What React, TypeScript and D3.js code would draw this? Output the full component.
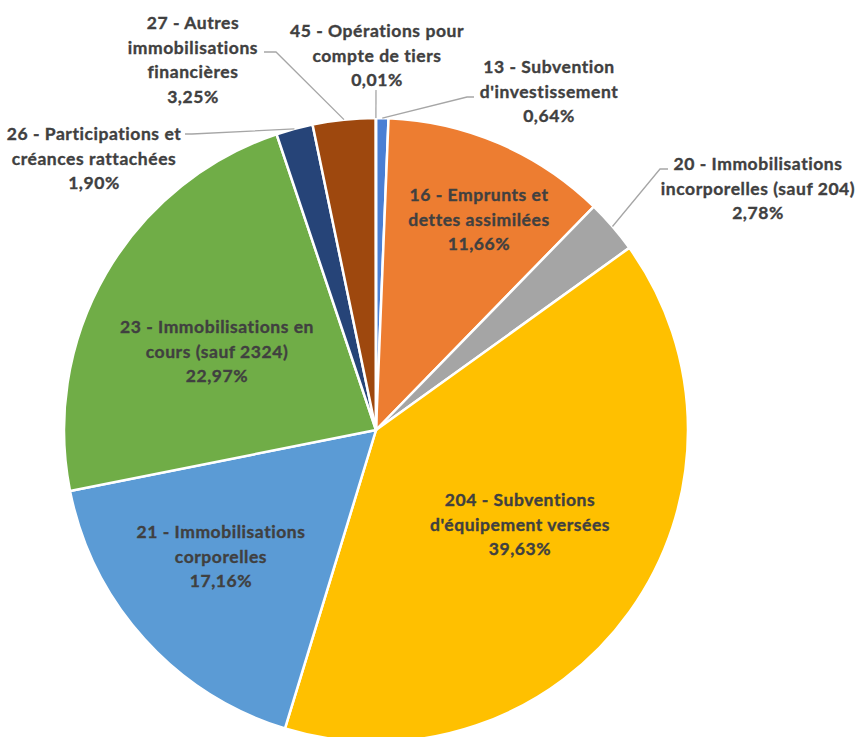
import React from "react";
import * as d3 from "d3";

// ---- data ----
const categories: string[] = [
  "13 - Subvention d'investissement",
  "16 - Emprunts et dettes assimilées",
  "20 - Immobilisations incorporelles (sauf 204)",
  "204 - Subventions d'équipement versées",
  "21 - Immobilisations corporelles",
  "23 - Immobilisations en cours (sauf 2324)",
  "26 - Participations et créances rattachées",
  "27 - Autres immobilisations financières",
  "45 - Opérations pour compte de tiers",
];
const values: number[] = [0.64, 11.66, 2.78, 39.63, 17.16, 22.97, 1.9, 3.25, 0.01];
const percentLabels: string[] = ["0,64%", "11,66%", "2,78%", "39,63%", "17,16%", "22,97%", "1,90%", "3,25%", "0,01%"];
const labelLines: string[][] = [
  ["13 - Subvention", "d'investissement"],
  ["16 - Emprunts et", "dettes assimilées"],
  ["20 - Immobilisations", "incorporelles (sauf 204)"],
  ["204 - Subventions", "d'équipement versées"],
  ["21 - Immobilisations", "corporelles"],
  ["23 - Immobilisations en", "cours (sauf 2324)"],
  ["26 - Participations et", "créances rattachées"],
  ["27 - Autres", "immobilisations", "financières"],
  ["45 - Opérations pour", "compte de tiers"],
];
const colors: string[] = ["#4a7fd4", "#ed7d31", "#a5a5a5", "#ffc000", "#5b9bd5", "#70ad47", "#264478", "#9e480e", "#636363"];

// ---- layout (label centres, first-line centre y) ----
const labelPos: [number, number][] = [
  [549, 67],
  [479, 195],
  [758, 164],
  [520, 500],
  [221, 532],
  [217, 327],
  [94, 134],
  [193, 23],
  [377, 31],
];
// leader elbow/end points for outside labels (null = inside label)
const leaders: ([number, number][] | null)[] = [
  [[467, 97], [474, 97]],
  null,
  [[660, 169], [668, 169]],
  null,
  null,
  null,
  [[192, 134], [185, 134]],
  [[276, 52], [264, 52]],
  [[376, 90]],
];

const W = 868;
const H = 737;
const CX = 376;
const CY = 430;
const R = 312;
const LINE_H = 24.5;

export default function App() {
  const pie = d3.pie<number>().sort(null).value((d) => d);
  const arcs = pie(values);
  const arcGen = d3.arc<d3.PieArcDatum<number>>().innerRadius(0).outerRadius(R);
  const edge = d3.arc<d3.PieArcDatum<number>>().innerRadius(R).outerRadius(R);
  const line = d3.line();

  return (
    <svg
      width={W}
      height={H}
      style={{ position: "absolute", left: 0, top: 0, background: "#fff" }}
      fontFamily="Lato, 'Open Sans', sans-serif"
    >
      <g transform={`translate(${CX},${CY})`}>
        {arcs.map((a, i) => (
          <path key={i} d={arcGen(a) || ""} fill={colors[i]} stroke="#fff" strokeWidth={2.5} strokeLinejoin="round" />
        ))}
      </g>
      {arcs.map((a, i) => {
        const lp = leaders[i];
        if (!lp) return null;
        const [ex, ey] = edge.centroid(a);
        const pts: [number, number][] = [[ex + CX, ey + CY], ...lp];
        return <path key={"l" + i} d={line(pts) || ""} fill="none" stroke="#a6a6a6" strokeWidth={1.3} />;
      })}
      {categories.map((c, i) => {
        const [x, y] = labelPos[i];
        const lines = [...labelLines[i], percentLabels[i]];
        return (
          <text
            key={"t" + i}
            x={x}
            y={y}
            textAnchor="middle"
            fontSize={17.5}
            fontWeight={700}
            letterSpacing={0.55}
            fill="#404040"
            stroke="#404040"
            strokeWidth={0.35}
          >
            {lines.map((t, k) => (
              <tspan key={k} x={x} y={y + k * LINE_H} dy="0.35em">
                {t}
              </tspan>
            ))}
          </text>
        );
      })}
    </svg>
  );
}
